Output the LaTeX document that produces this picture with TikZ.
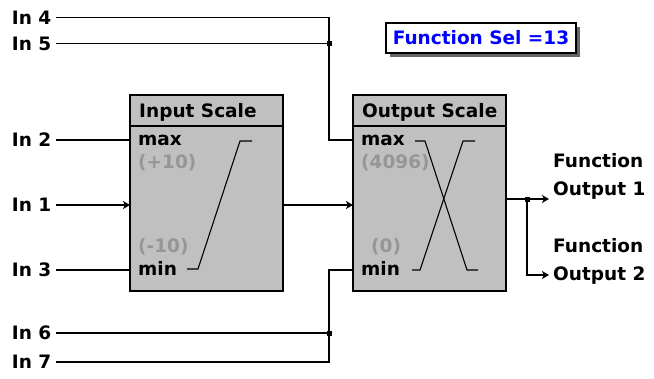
\documentclass[tikz,border=0pt]{standalone}
\usepackage{fontspec}
\setmainfont{DejaVu Sans}
\usetikzlibrary{arrows.meta,shadows}

\definecolor{boxgray}{RGB}{192,192,192}
\definecolor{limgray}{RGB}{150,150,150}
\definecolor{selblue}{RGB}{0,0,255}

\tikzset{
  txt/.style={font=\fontsize{18.5}{22}\bfseries\selectfont, inner sep=0pt},
  inlbl/.style={txt, anchor=west, outer xsep=5pt},
  port/.style={txt, anchor=base west},
  lim/.style={port, text=limgray},
  wire/.style={line width=1.3pt},
  tip/.style={-{Stealth[length=7pt,width=8pt,inset=2pt]}},
  scalebox/.style={draw, fill=boxgray, line width=2pt, inner sep=0pt},
  selbox/.style={txt, draw, fill=white, text=selblue, line width=1.8pt,
    minimum width=190pt, minimum height=30pt,
    drop shadow={shadow xshift=4pt, shadow yshift=-4pt, fill=black!60, opacity=1}},
  dot/.style={fill, inner sep=0pt, minimum size=5pt, shape=rectangle}
}

\begin{document}
\begin{tikzpicture}[x=1pt,y=-1pt]
    \useasboundingbox (0,0) rectangle (654,378);

    % the two scaling blocks
    \node[scalebox, minimum width=153pt, minimum height=196pt] (isc) at (206.5,193) {};
    \node[scalebox, minimum width=153pt, minimum height=196pt] (osc) at (429.5,193) {};
    \draw[line width=2pt] (isc.west |- 0,126) -- (isc.east |- 0,126);
    \draw[line width=2pt] (osc.west |- 0,126) -- (osc.east |- 0,126);
    \node[port] (isct) at (139,117) {Input Scale};
    \node[port] (osct) at (362,117) {Output Scale};

    % limits
    \node[port] (imaxl) at (138,145) {max};
    \node[lim] (imaxv) at (138,168) {(+10)};
    \node[lim] (iminv) at (138,252) {(-10)};
    \node[port] (iminl) at (138,275) {min};
    \node[port] (omaxl) at (361,145) {max};
    \node[lim] (omaxv) at (361,168) {(4096)};
    \node[lim] (ominv) at (371,252) {(0)};
    \node[port] (ominl) at (361,275) {min};

    % transfer curves
    \draw[line width=1.1pt] (187,269) -- (198,269) -- (240,141) -- (252,141);
    \draw[line width=1.1pt] (415,141) -- (425,141) -- (467,270) -- (478,270);
    \draw[line width=1.1pt] (412,270) -- (420,270) -- (463,141) -- (475,141);

    % ports
    \coordinate (imax) at (130,140);
    \coordinate (iin) at (130,205);
    \coordinate (imin) at (130,270);
    \coordinate (iout) at (283,205);
    \coordinate (omax) at (353,140);
    \coordinate (oin) at (353,205);
    \coordinate (omin) at (353,270);
    \coordinate (oout) at (506,199);
    \coordinate (j45) at (329,43.5);
    \coordinate (j67) at (329,333);
    \coordinate (jout) at (527,199);
    \coordinate (out1) at (549,199);
    \coordinate (out2) at (549,275);

    % inputs
    \node[inlbl] (in4) at (7,17.5) {In 4};
    \node[inlbl] (in5) at (7,43.5) {In 5};
    \node[inlbl] (in2) at (7,140) {In 2};
    \node[inlbl] (in1) at (7,205) {In 1};
    \node[inlbl] (in3) at (7,270) {In 3};
    \node[inlbl] (in6) at (7,333) {In 6};
    \node[inlbl] (in7) at (7,362) {In 7};

    \draw[wire] (in2.east) -- (imax);
    \draw[wire,tip] (in1.east) -- (iin);
    \draw[wire] (in3.east) -- (imin);
    \draw[wire] (in4.east) -| (j45) |- (omax);
    \draw[wire] (in5.east) -- (j45);
    \draw[wire] (in7.east) -| (j67) |- (omin);
    \draw[wire] (in6.east) -- (j67);
    \draw[wire,tip] (iout) -- (oin);
    \node[dot] at (j45) {};
    \node[dot] at (j67) {};

    % outputs
    \draw[wire,tip] (oout) -- (out1);
    \draw[wire,tip] (jout) |- (out2);
    \node[dot] at (jout) {};
    \node[port] (fo1a) at (553,167) {Function};
    \node[port] (fo1b) at (553,195) {Output 1};
    \node[port] (fo2a) at (553,252) {Function};
    \node[port] (fo2b) at (553,280) {Output 2};

    % function selector
    \node[selbox] (fsel) at (481,38) {Function Sel =13};
\end{tikzpicture}
\end{document}
